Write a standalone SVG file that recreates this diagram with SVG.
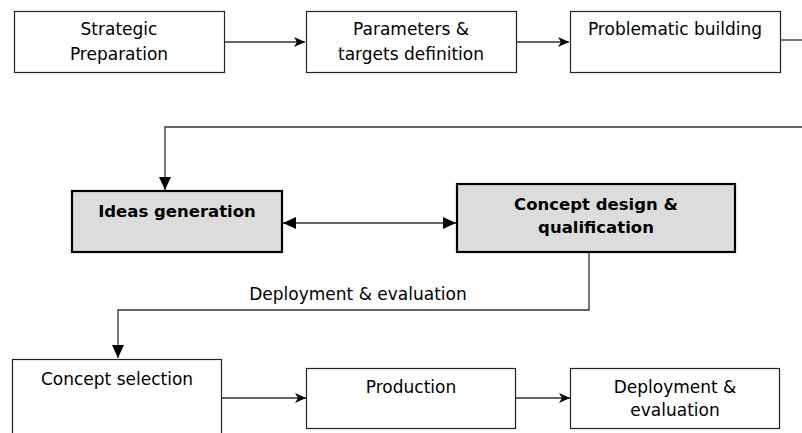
<svg xmlns="http://www.w3.org/2000/svg" width="802" height="433" viewBox="0 0 802 433">
<defs>
<style>
text{font-family:"DejaVu Sans","Liberation Sans",sans-serif;font-size:17px;fill:#000;text-anchor:middle}
.b{font-weight:bold;font-size:16.5px}
.box{fill:#fff;stroke:#222;stroke-width:1.2}
.gbox{fill:#dcdcdc;stroke:#000;stroke-width:2.2}
.con{fill:none;stroke:#333;stroke-width:1.3}
</style>
<marker id="ah" markerUnits="userSpaceOnUse" markerWidth="12" markerHeight="10" refX="11" refY="5" orient="auto-start-reverse">
<path d="M0,0 L11,5 L0,10 L3,5 Z" fill="#000"/>
</marker>
<marker id="ahb" markerUnits="userSpaceOnUse" markerWidth="14" markerHeight="12" refX="13" refY="6" orient="auto-start-reverse">
<path d="M0,0 L13,6 L0,12 Z" fill="#000"/>
</marker>
</defs>
<g id="connectors">
<path class="con" d="M224,42 H305" marker-end="url(#ah)"/>
<path class="con" d="M516,42 H569" marker-end="url(#ah)"/>
<path class="con" d="M780,40 H802"/>
<path class="con" d="M802,127 H165 V190" marker-end="url(#ahb)"/>
<path class="con" d="M283,223 H456" marker-start="url(#ahb)" marker-end="url(#ahb)"/>
<path class="con" d="M589,252 V310 H118 V358" marker-end="url(#ahb)"/>
<text x="358" y="300">Deployment &amp; evaluation</text>
<path class="con" d="M221,398 H306" marker-end="url(#ah)"/>
<path class="con" d="M515,398 H570" marker-end="url(#ah)"/>
</g>
<g id="n1"><rect class="box" x="14.5" y="11.5" width="210" height="61"/><text x="119" y="35">Strategic</text><text x="119" y="60">Preparation</text></g>
<g id="n2"><rect class="box" x="306.5" y="11.5" width="210" height="61"/><text x="411" y="35">Parameters &amp;</text><text x="411" y="60">targets definition</text></g>
<g id="n3"><rect class="box" x="570.5" y="11.5" width="210" height="61"/><text x="675" y="35">Problematic building</text></g>
<g id="n4"><rect class="gbox" x="72" y="191" width="210" height="61"/><text class="b" x="177" y="217">Ideas generation</text></g>
<g id="n5"><rect class="gbox" x="457" y="184" width="278" height="68"/><text class="b" x="596" y="210">Concept design &amp;</text><text class="b" x="596" y="233">qualification</text></g>
<g id="n6"><rect class="box" x="12.5" y="359.5" width="209" height="80"/><text x="117" y="385">Concept selection</text></g>
<g id="n7"><rect class="box" x="306.5" y="368.5" width="209" height="60"/><text x="411" y="393">Production</text></g>
<g id="n8"><rect class="box" x="570.5" y="368.5" width="209" height="60"/><text x="675" y="393">Deployment &amp;</text><text x="675" y="416">evaluation</text></g>
</svg>
